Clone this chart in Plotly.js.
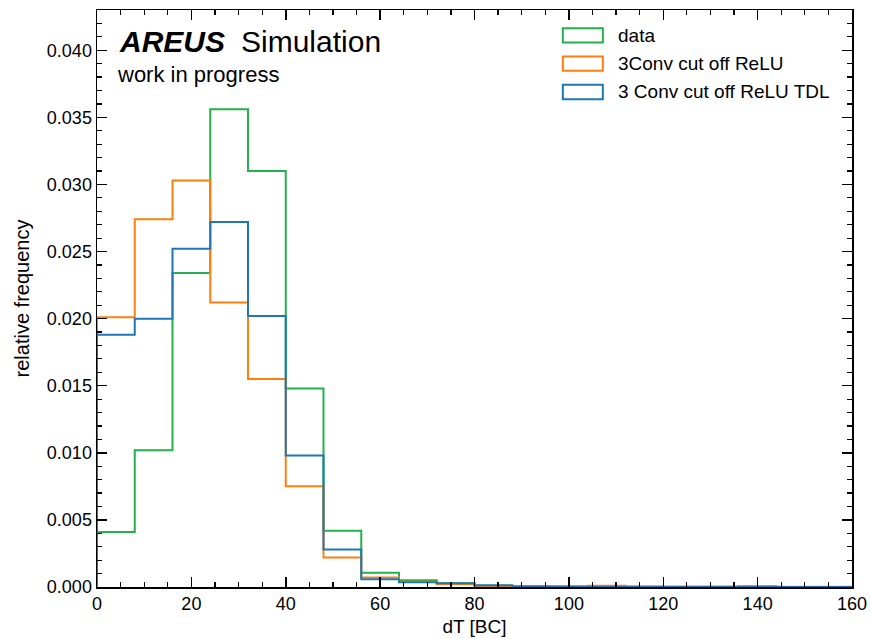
<!DOCTYPE html>
<html>
<head>
<meta charset="utf-8">
<script src="https://cdn.plot.ly/plotly-3.0.1.min.js"></script>
<style>
html,body{margin:0;padding:0;background:#fff;}
#chart{width:870px;height:639px;}
</style>
</head>
<body>
<div id="chart"></div>
<script>
// Bin edges (dT in BC)
var binEdges = [0, 8, 16, 24, 32, 40, 48, 56, 64, 72, 80, 88, 96, 104, 112, 120, 128, 136, 144, 152, 160];

// Relative frequency per bin
var dataVals = [0.0041, 0.0102, 0.0234, 0.0356, 0.0310, 0.0148, 0.0042, 0.00107, 0.0005, 0.00028,
                0.0001, 0.00004, 0.00002, 0.00001, 0, 0, 0, 0, 0, 0];
var conv3Vals = [0.0201, 0.0274, 0.0303, 0.0212, 0.0155, 0.0075, 0.0022, 0.0007, 0.0004, 0.0002,
                 0.00008, 0.00008, 0.00006, 0.0001, 0.00003, 0.00002, 0.00002, 0.00008, 0.00002, 0.00001];
var conv3TdlVals = [0.0188, 0.0200, 0.0252, 0.0272, 0.0202, 0.0098, 0.0028, 0.00057, 0.00035, 0.00028,
                    0.00013, 0.00004, 0.00002, 0.00002, 0.00001, 0.00001, 0.00001, 0, 0, 0];

var seriesNames = ["data", "3Conv cut off ReLU", "3 Conv cut off ReLU TDL"];
var seriesColors = ["#22b14a", "#ff7f0e", "#1f77b4"];
var seriesVals = [dataVals, conv3Vals, conv3TdlVals];

function stepTrace(vals, name, color) {
  var x = [binEdges[0]].concat(binEdges.slice(0, vals.length)).concat([binEdges[binEdges.length - 1]]);
  var y = [0].concat(vals).concat([0]);
  return {
    type: "scatter", mode: "lines", x: x, y: y, name: name,
    line: {shape: "hv", color: color, width: 2},
    showlegend: false, hoverinfo: "skip"
  };
}

var traces = [];
for (var i = 0; i < seriesVals.length; i++) {
  traces.push(stepTrace(seriesVals[i], seriesNames[i], seriesColors[i]));
}

var FONT = "Liberation Sans, Arial, Helvetica, sans-serif";

// Legend (drawn manually to show outlined boxes)
var legendY = [0.956, 0.907, 0.858];
var shapes = [];
var annotations = [];
for (var j = 0; j < seriesNames.length; j++) {
  shapes.push({
    type: "rect", xref: "paper", yref: "paper",
    x0: 0.617, x1: 0.670, y0: legendY[j] - 0.0125, y1: legendY[j] + 0.0125,
    line: {color: seriesColors[j], width: 2}, fillcolor: "rgba(0,0,0,0)"
  });
  annotations.push({
    xref: "paper", yref: "paper", x: 0.688, y: legendY[j],
    xanchor: "left", yanchor: "middle", showarrow: false,
    text: seriesNames[j], font: {family: FONT, size: 19, color: "#000"}
  });
}

annotations.push({
  xref: "paper", yref: "paper", x: 0.026, y: 0.9454, xanchor: "left", yanchor: "middle",
  showarrow: false, text: "<b><i>AREUS</i></b>", font: {family: FONT, size: 30, color: "#000"}
});
annotations.push({
  xref: "paper", yref: "paper", x: 0.188, y: 0.9454, xanchor: "left", yanchor: "middle",
  showarrow: false, text: "Simulation", font: {family: FONT, size: 30, color: "#000"}
});
annotations.push({
  xref: "paper", yref: "paper", x: 0.024, y: 0.889, xanchor: "left", yanchor: "middle",
  showarrow: false, text: "work in progress", font: {family: FONT, size: 22, color: "#000"}
});

var axisCommon = {
  ticks: "inside", ticklen: 10, tickwidth: 1.5, tickcolor: "#000",
  showline: true, linecolor: "#000", linewidth: 1.5, mirror: "allticks",
  showgrid: false, zeroline: false,
  tickfont: {family: FONT, size: 18, color: "#000"}
};

var layout = {
  width: 870, height: 639,
  margin: {l: 97, r: 18, t: 10, b: 52},
  paper_bgcolor: "#fff", plot_bgcolor: "#fff",
  showlegend: false,
  xaxis: Object.assign({}, axisCommon, {
    range: [0, 160], tick0: 0, dtick: 20,
    minor: {dtick: 5, ticks: "inside", ticklen: 5, tickwidth: 1.2, tickcolor: "#000"},
    title: {text: "dT [BC]", font: {family: FONT, size: 19, color: "#000"}, standoff: 6}
  }),
  yaxis: Object.assign({}, axisCommon, {
    range: [0, 0.043], tick0: 0, dtick: 0.005, tickformat: ".3f",
    minor: {dtick: 0.001, ticks: "inside", ticklen: 5, tickwidth: 1.2, tickcolor: "#000"},
    title: {text: "relative frequency", font: {family: FONT, size: 20, color: "#000"}, standoff: 12}
  }),
  shapes: shapes,
  annotations: annotations
};

Plotly.newPlot("chart", traces, layout, {displayModeBar: false, staticPlot: true});
</script>
</body>
</html>
